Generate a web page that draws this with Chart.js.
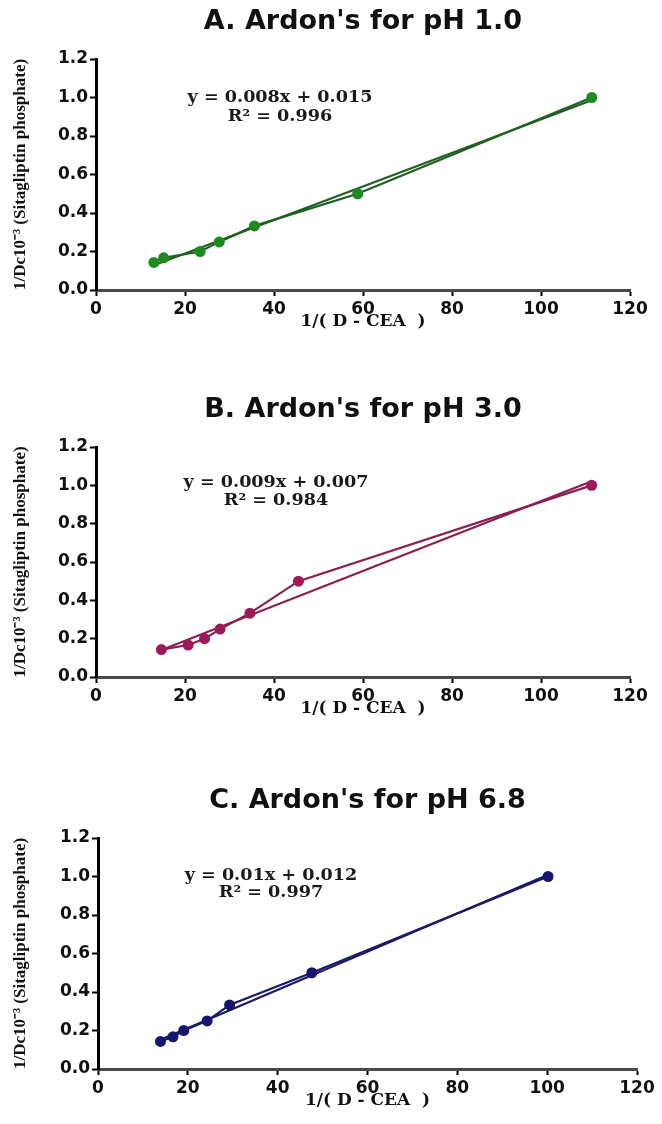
<!DOCTYPE html>
<html>
<head>
<meta charset="utf-8">
<script src="https://cdn.jsdelivr.net/npm/chart.js@4.4.1/dist/chart.umd.min.js"></script>
<style>
  html, body { margin: 0; padding: 0; background: #ffffff; }
  body { width: 662px; height: 1124px; position: relative; overflow: hidden; }
  canvas { position: absolute; left: 0; }
</style>
</head>
<body>
<canvas id="cA" width="662" height="340" style="top:0px"></canvas>
<canvas id="cB" width="662" height="340" style="top:387px"></canvas>
<canvas id="cC" width="662" height="340" style="top:779px"></canvas>
<script>
// ---- data ----
const titles = ["A. Ardon's for pH 1.0", "B. Ardon's for pH 3.0", "C. Ardon's for pH 6.8"];
const xTitle = "1/( D - CEA  )";
const yTitle = "1/Dc10\u207B\u00B3 (Sitagliptin phosphate)";
const xTicks = [0, 20, 40, 60, 80, 100, 120];
const yTicks = [0.0, 0.2, 0.4, 0.6, 0.8, 1.0, 1.2];

const xA = [13.0, 15.2, 23.4, 27.7, 35.6, 58.8, 111.4];
const yA = [0.143, 0.167, 0.200, 0.250, 0.333, 0.500, 1.000];
const xB = [14.7, 20.7, 24.4, 27.9, 34.6, 45.5, 111.4];
const yB = [0.143, 0.167, 0.200, 0.250, 0.333, 0.500, 1.000];
const xC = [13.9, 16.7, 19.1, 24.3, 29.3, 47.6, 100.2];
const yC = [0.143, 0.167, 0.200, 0.250, 0.333, 0.500, 1.000];

const eqA = ["y = 0.008x + 0.015", "R\u00B2 = 0.996"];
const eqB = ["y = 0.009x + 0.007", "R\u00B2 = 0.984"];
const eqC = ["y = 0.01x + 0.012", "R\u00B2 = 0.997"];

// least-squares trend line of a series (drawn between its smallest and largest x)
function trend(xs, ys) {
  const n = xs.length;
  const mx = xs.reduce((a, b) => a + b, 0) / n;
  const my = ys.reduce((a, b) => a + b, 0) / n;
  let sxy = 0, sxx = 0;
  for (let i = 0; i < n; i++) { sxy += (xs[i] - mx) * (ys[i] - my); sxx += (xs[i] - mx) ** 2; }
  const b = sxy / sxx, a = my - b * mx;
  const x0 = Math.min(...xs), x1 = Math.max(...xs);
  return [{x: x0, y: a + b * x0}, {x: x1, y: a + b * x1}];
}

const eqPlugin = {
  id: 'eqn',
  afterDatasetsDraw(chart, args, opts) {
    const ctx = chart.ctx;
    ctx.save();
    ctx.fillStyle = '#1a1a1a';
    ctx.font = 'bold 16px "DejaVu Serif"';
    ctx.textAlign = 'center';
    ctx.textBaseline = 'middle';
    opts.lines.forEach((t, i) => {
      ctx.save();
      ctx.translate(opts.cx, opts.ys[i]);
      ctx.scale(opts.sx, 1);
      ctx.fillText(t, 0, 0);
      ctx.restore();
    });
    ctx.restore();
  }
};

function makeChart(id, xs, ys, color, lineColor, title, eq, L) {
  const pts = xs.map((x, i) => ({x: x, y: ys[i]}));
  const H = 340;
  return new Chart(document.getElementById(id), {
    type: 'scatter',
    data: {
      datasets: [
        { data: pts, showLine: true, borderColor: lineColor, borderWidth: 2.2,
          backgroundColor: color, pointBackgroundColor: color, pointBorderColor: color,
          pointRadius: 5.5, pointBorderWidth: 0, order: 1 },
        { data: trend(xs, ys), showLine: true, borderColor: lineColor, borderWidth: 2.2,
          pointRadius: 0, order: 2 }
      ]
    },
    options: {
      responsive: false,
      animation: false,
      devicePixelRatio: 1,
      layout: { padding: { left: 0, right: 662 - L.right, top: 0, bottom: 0 } },
      plugins: {
        legend: { display: false },
        tooltip: { enabled: false },
        title: { display: true, text: title, color: '#111', fullSize: false,
          font: { family: '"DejaVu Sans"', size: 27, weight: 'bold', lineHeight: 1.2 },
          padding: { top: L.top - 53, bottom: 20.6 } },
        eqn: { lines: eq, cx: L.eqx, ys: L.eqy, sx: 1.1 }
      },
      scales: {
        x: {
          type: 'linear', min: 0, max: 120,
          afterBuildTicks: s => { s.ticks = xTicks.map(v => ({value: v})); },
          afterFit: s => { s.height = H - L.bottom; },
          border: { display: true, color: '#4a4a4a', width: 3 },
          grid: { drawOnChartArea: false, drawTicks: true, tickLength: 6, tickWidth: 2, tickColor: '#000', color: '#000' },
          ticks: { color: '#111', padding: 3, font: { family: '"DejaVu Sans"', size: 17, weight: 'bold' },
                   callback: v => String(v) },
          title: { display: true, text: xTitle, color: '#111',
                   font: { family: '"DejaVu Serif"', size: 17, weight: 'bold', lineHeight: 1.2 },
                   padding: { top: 0, bottom: 8 } }
        },
        y: {
          type: 'linear', min: 0, max: 1.2,
          afterBuildTicks: s => { s.ticks = yTicks.map(v => ({value: v})); },
          afterFit: s => { s.width = L.left; },
          border: { display: true, color: '#000', width: 3 },
          grid: { drawOnChartArea: false, drawTicks: true, tickLength: 6, tickWidth: 2, tickColor: '#000', color: '#000' },
          ticks: { color: '#111', padding: 2, font: { family: '"DejaVu Sans"', size: 17, weight: 'bold' },
                   callback: v => Number(v).toFixed(1) },
          title: { display: true, text: yTitle, color: '#111',
                   font: { family: '"Liberation Serif"', size: 17, weight: 'bold', lineHeight: 1.2 },
                   padding: { top: 10, bottom: 0 } }
        }
      }
    },
    plugins: [eqPlugin]
  });
}

makeChart('cA', xA, yA, '#1c8a1c', '#1f5f22', titles[0], eqA,
  { left: 96, right: 630, top: 59, bottom: 290, eqx: 280, eqy: [98, 117] });
makeChart('cB', xB, yB, '#9c1a5a', '#8a1f52', titles[1], eqB,
  { left: 96, right: 630, top: 60, bottom: 290, eqx: 276, eqy: [96, 114] });
makeChart('cC', xC, yC, '#16166e', '#1a1a66', titles[2], eqC,
  { left: 98, right: 637, top: 59, bottom: 290, eqx: 271, eqy: [97, 114] });
</script>
</body>
</html>
